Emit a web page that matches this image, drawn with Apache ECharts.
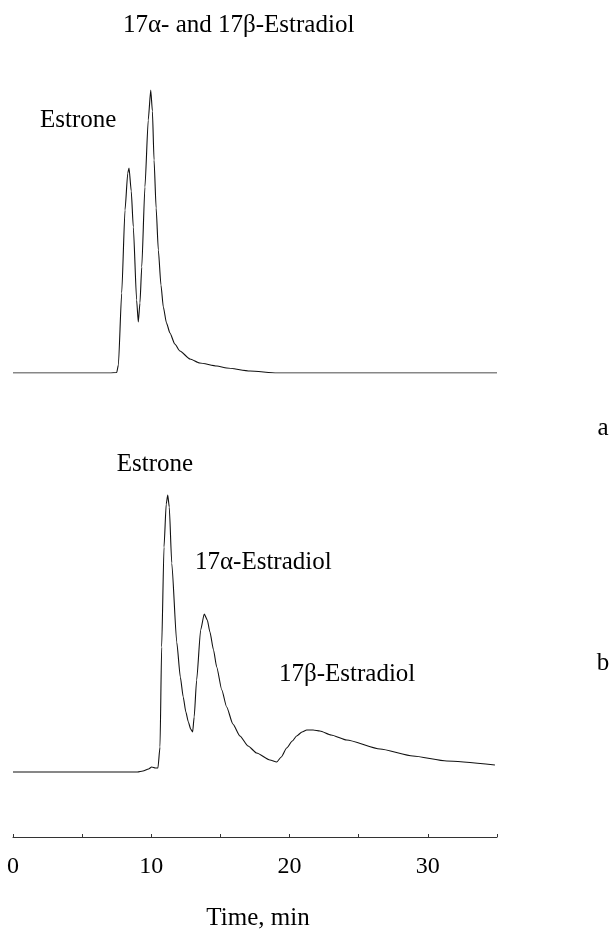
<!DOCTYPE html>
<html>
<head>
<meta charset="utf-8">
<title>Estrone / Estradiol chromatograms</title>
<script src="https://cdn.jsdelivr.net/npm/echarts@6/dist/echarts.min.js"></script>
<style>
    html, body {margin: 0; padding: 0; background: #fff;}
    #main {width: 611px; height: 932px;}
</style>
</head>
<body>
<div id="main"></div>
<script>
// trace a (upper)
var timeA = [0, 7.0, 7.5, 7.62, 7.86, 8.10, 8.30, 8.39, 8.55, 8.70, 8.94, 9.06, 9.18, 9.31, 9.54, 9.78, 9.96, 10.08, 10.20, 10.35, 10.51, 10.7, 10.87, 11.1, 11.35, 11.7, 12.07, 12.8, 13.5, 14.75, 15.45, 17.14, 19.09, 35];
var respA = [0, 0, 0.5, 8, 80, 163, 200, 205, 182, 146, 73, 51, 70, 106, 186, 253, 283, 262, 213, 165, 123, 88, 66, 50, 40, 29, 22, 14, 10, 7, 5, 2, 0, 0];

// trace b (lower)
var timeB = [0, 9.0, 9.4, 9.8, 10.03, 10.3, 10.48, 10.63, 10.75, 10.92, 11.08, 11.19, 11.30, 11.48, 11.84, 12.1, 12.31, 12.5, 12.68, 12.85, 12.99, 13.1, 13.28, 13.57, 13.83, 14.05, 14.24, 14.5, 14.73, 15.1, 15.45, 15.9, 16.41, 17.0, 17.62, 18.58, 19.07, 19.4, 19.79, 20.2, 20.51, 20.9, 21.24, 21.7, 22.2, 23.0, 24.13, 26.54, 28.92, 31.36, 34.85];
var respB = [0, 0, 1, 3, 5, 4, 4, 25, 125, 225, 268, 277, 265, 209, 130, 95, 75, 60, 50, 43, 40, 55, 92, 142, 158, 152, 140, 122, 105, 82, 65, 48, 36, 26, 19, 12, 10, 15, 24, 31, 36, 40, 42, 42, 41, 37, 32, 23, 16, 11, 7];

// x axis
var xMin = 0;
var xMax = 35;
var xTickStep = 5;
var xLabelStep = 10;

showChrom();

function pairs(xs, ys) {
    var out = [];
    for (var i = 0; i < xs.length; i++) {
        out.push([xs[i], ys[i]]);
    }
    return out;
}

function txt(x, y, str, align) {
    return {
        type: 'text',
        x: x,
        y: y,
        style: {
            text: str,
            fill: '#000',
            font: '25px "Liberation Serif"',
            align: align || 'left',
            verticalAlign: 'middle'
        }
    };
}

//两条色谱曲线
function showChrom() {
    var myChart = echarts.init(document.getElementById('main'));
    var lineStyle = {color: '#111', width: 1.1};
    var option = {
        animation: false,
        grid: [
            {left: 13, right: 114, top: 73, height: 300},
            {left: 13, right: 114, top: 472, bottom: 95}
        ],
        xAxis: [
            {
                gridIndex: 0, type: 'value', min: xMin, max: xMax, show: false
            },
            {
                gridIndex: 1, type: 'value', min: xMin, max: xMax, interval: xTickStep,
                axisLine: {onZero: false, lineStyle: {color: '#333', width: 1}},
                axisTick: {inside: true, length: 3, lineStyle: {color: '#333'}},
                splitLine: {show: false},
                axisLabel: {
                    color: '#000',
                    fontSize: 24,
                    fontFamily: 'Liberation Serif',
                    margin: 18,
                    formatter: function (v) {
                        return v % xLabelStep === 0 ? v : '';
                    }
                }
            }
        ],
        yAxis: [
            {gridIndex: 0, type: 'value', min: 0, max: 300, show: false},
            {gridIndex: 1, type: 'value', min: -65, max: 300, show: false}
        ],
        graphic: [
            txt(123, 25, '17α- and 17β-Estradiol'),
            txt(40, 120, 'Estrone'),
            txt(155, 464, 'Estrone', 'center'),
            txt(195, 562, '17α-Estradiol'),
            txt(279, 674, '17β-Estradiol'),
            txt(603, 428, 'a', 'center'),
            txt(603, 663, 'b', 'center'),
            txt(258, 918, 'Time, min', 'center')
        ],
        series: [
            {
                type: 'line', xAxisIndex: 0, yAxisIndex: 0,
                data: pairs(timeA, respA),
                smooth: 0.2, smoothMonotone: 'x',
                showSymbol: false, lineStyle: lineStyle
            },
            {
                type: 'line', xAxisIndex: 1, yAxisIndex: 1,
                data: pairs(timeB, respB),
                smooth: 0.2, smoothMonotone: 'x',
                showSymbol: false, lineStyle: lineStyle
            }
        ]
    };
    myChart.setOption(option);
}
</script>
</body>
</html>
